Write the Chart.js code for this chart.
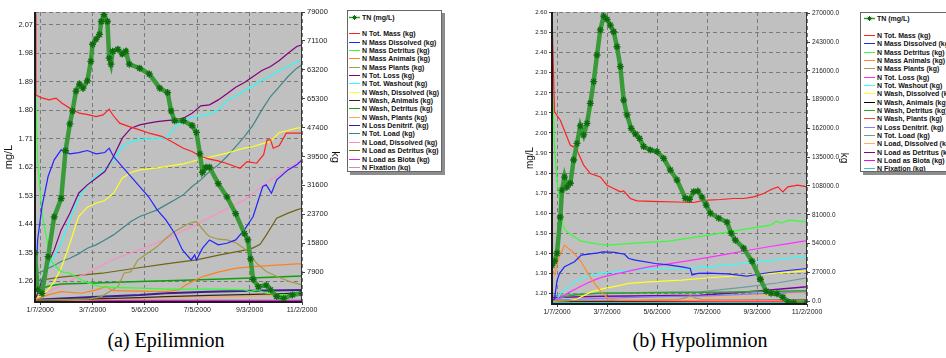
<!DOCTYPE html>
<html>
<head>
<meta charset="utf-8">
<script src="https://cdn.jsdelivr.net/npm/chart.js@4.4.1/dist/chart.umd.min.js"></script>
<style>
  body { margin: 0; width: 946px; height: 358px; overflow: hidden; background: #fff; position: relative; font-family: 'Liberation Sans', Arial, sans-serif; }
  .panel { position: absolute; top: 0; }
  .legend { position: absolute; background: #fff; border: 1px solid #666; box-shadow: 3px 3px 0 #8c8c8c; box-sizing: border-box; font-weight: bold; font-size: 7px; color: #111; white-space: nowrap; overflow: hidden; }
  .legend .row { height: 8.35px; display: flex; align-items: center; }
  .legend .sw { display: inline-block; width: 11px; height: 0; border-top: 1.5px solid; margin-right: 2px; flex: none; }
  .cap { position: absolute; top: 329px; width: 300px; text-align: center; font-family: 'Liberation Serif', 'Times New Roman', serif; font-size: 20px; line-height: 23px; color: #000; }
</style>
</head>
<body>
<canvas id="epi" class="panel" style="left:0" width="346" height="322"></canvas>
<canvas id="hypo" class="panel" style="left:516px" width="344" height="322"></canvas>
<div id="epiLegend" class="legend" style="left:347px;top:10px;width:95px;height:162px;padding:2px 0 0 1px"></div>
<div id="hypoLegend" class="legend" style="left:860px;top:12px;width:110px;height:160px;padding:1.5px 0 0 3px"></div>
<div class="cap" style="left:16px">(a) Epilimnion</div>
<div class="cap" style="left:550px">(b) Hypolimnion</div>
<script>
// x values are days since 1 Jan 2000
const dayTicks = [6, 66, 126, 186, 246, 306];
const dateLabels = ['1/7/2000', '3/7/2000', '5/6/2000', '7/5/2000', '9/3/2000', '11/2/2000'];

const seriesNames = [
  'N Tot. Mass (kg)', 'N Mass Dissolved (kg)', 'N Mass Detritus (kg)', 'N Mass Animals (kg)',
  'N Mass Plants (kg)', 'N Tot. Loss (kg)', 'N Tot. Washout (kg)', 'N Wash, Dissolved (kg)',
  'N Wash, Animals (kg)', 'N Wash, Detritus (kg)', 'N Wash, Plants (kg)', 'N Loss Denitrif. (kg)',
  'N Tot. Load (kg)', 'N Load, Dissolved (kg)', 'N Load as Detritus (kg)', 'N Load as Biota (kg)',
  'N Fixation (kg)'
];

const epiMgTicks = [1.26, 1.35, 1.44, 1.53, 1.62, 1.71, 1.80, 1.89, 1.98, 2.07];
const epiKgTicks = [7900, 15800, 23700, 31600, 39500, 47400, 55300, 63200, 71100, 79000];
const epiKgLabels = ['7900', '15800', '23700', '31600', '39500', '47400', '65300', '63200', '71100', '79000'];
const hypoMgTicks = [1.2, 1.3, 1.4, 1.5, 1.6, 1.7, 1.8, 1.9, 2.0, 2.1, 2.2, 2.3, 2.4, 2.5, 2.6];
const hypoKgTicks = [0, 27000, 54000, 81000, 108000, 135000, 162000, 189000, 216000, 243000, 270000];
const hypoKgLabels = ['0.0', '27000.0', '54000.0', '81000.0', '108000.0', '135000.0', '162000.0', '189000.0', '216000.0', '243000.0', '270000.0'];

// ---- Epilimnion: [day, value]
const epiTN = [[0,1.35],[3,1.232],[8,1.221],[15,1.337],[22,1.463],[30,1.521],[35,1.672],[40,1.757],[43,1.798],[47,1.861],[51,1.883],[55,1.87],[60,1.893],[64,1.955],[66,2.009],[70,2.025],[74,2.04],[76,2.081],[79,2.103],[83,2.081],[85,1.965],[87,1.946],[89,1.987],[95,1.993],[100,1.978],[104,1.987],[108,1.946],[120,1.933],[131,1.915],[143,1.87],[152,1.856],[156,1.798],[160,1.767],[170,1.767],[180,1.752],[185,1.73],[189,1.662],[192,1.604],[196,1.62],[200,1.62],[210,1.568],[220,1.526],[230,1.473],[240,1.41],[244,1.39],[247,1.33],[250,1.265],[256,1.242],[265,1.247],[270,1.232],[277,1.211],[285,1.205],[295,1.216],[306,1.221]];
const epiTotMass = [[0,78500],[1,56300],[8,55500],[16,55000],[24,55440],[31,54070],[43,52240],[51,51330],[62,50870],[70,50410],[78,50870],[85,52430],[89,50900],[97,48600],[108,47670],[120,46770],[131,45860],[146,44940],[160,43120],[170,41760],[180,40840],[190,39480],[200,38750],[210,38290],[219,37650],[235,36290],[243,38110],[254,37650],[262,40000],[266,44030],[270,44030],[273,41760],[280,42500],[288,45860],[306,45860]];
const epiDissolved = [[0,300],[3,16680],[8,25800],[15,34010],[22,38560],[30,41300],[40,40210],[50,40570],[60,41120],[70,40210],[80,40570],[85,41760],[90,39480],[100,36740],[110,34010],[120,31270],[130,28540],[140,24890],[150,22150],[160,18510],[169,13950],[179,11210],[183,12580],[185,11210],[192,14410],[200,16680],[210,15320],[220,15770],[230,16680],[240,19420],[250,23070],[261,31270],[265,31730],[271,29450],[277,33090],[290,35830],[300,37200],[306,38560]];
const epiDetritus = [[0,64000],[3,38560],[8,23980],[15,14860],[18,11200],[22,9850],[30,8020],[40,7570],[50,6200],[60,5000],[75,3920],[90,3700],[120,3470],[150,3200],[180,3200],[210,3200],[240,3000],[246,2550],[255,3000],[265,2100],[280,1800],[306,1500]];
const epiAnimals = [[0,300],[15,1640],[30,2550],[53,2100],[70,3000],[81,3920],[90,2800],[120,2700],[150,2550],[165,3000],[173,4380],[192,6650],[212,8020],[231,8940],[250,9390],[300,10120],[306,10120]];
const epiPlants = [[0,200],[60,500],[70,900],[76,1180],[85,2500],[95,3920],[102,7570],[110,8000],[118,11200],[129,13040],[140,14860],[150,17140],[160,18960],[170,20330],[177,21240],[185,21700],[196,18500],[200,17600],[210,16870],[220,16680],[230,15950],[242,13950],[254,10300],[265,8020],[280,6400],[292,5290],[306,4380]];
const epiTotLoss = [[0,300],[3,2100],[8,5740],[15,10300],[22,13950],[30,19420],[40,23980],[50,29450],[60,31730],[70,33550],[80,35370],[90,39480],[100,44490],[110,47230],[120,48140],[130,48600],[140,49000],[150,49300],[160,49500],[170,49960],[180,51330],[190,53330],[200,53610],[210,54970],[220,56620],[230,58440],[240,59720],[250,61360],[260,63000],[270,64090],[280,65730],[290,67740],[300,69560],[306,70020]];
const epiWashout = [[0,300],[3,2100],[8,6200],[15,9390],[22,12130],[30,15770],[40,22150],[50,28080],[60,31730],[70,34190],[80,35830],[90,38560],[100,42200],[110,43500],[120,44100],[130,44300],[140,44400],[150,44600],[160,47230],[170,49510],[180,50230],[190,50600],[200,51150],[210,52240],[220,54790],[230,55890],[240,57530],[250,58800],[260,60260],[270,61540],[280,63000],[290,64090],[300,65460],[306,65920]];
const epiWashDiss = [[0,270],[3,1000],[8,1640],[15,3010],[22,5290],[30,8930],[40,15770],[50,23070],[60,25620],[70,26710],[80,27440],[90,29450],[100,33550],[110,35100],[120,35830],[130,36100],[140,36380],[150,36740],[160,37110],[170,37470],[180,38110],[190,38750],[200,39290],[210,39840],[220,40390],[230,41120],[240,41760],[250,42210],[260,42940],[270,43580],[280,46040],[290,46590],[300,47230],[306,47410]];
const epiWashAnimals = [[0,100],[60,500],[120,900],[150,1180],[200,1500],[250,1800],[306,2100]];
const epiWashDetritus = [[0,300],[5,3000],[15,4000],[30,4650],[60,4840],[120,5290],[180,5740],[240,6200],[306,6840]];
const epiWashPlants = [[0,0],[60,300],[120,700],[180,1000],[240,1300],[306,1600]];
const epiDenitrif = [[0,300],[60,1000],[120,1600],[150,2100],[200,2500],[250,2800],[306,3000]];
const epiTotLoad = [[0,7110],[3,7570],[8,8020],[15,8930],[22,9660],[30,10760],[40,11670],[50,12860],[60,14400],[70,15320],[80,16680],[90,18050],[100,19880],[110,21700],[120,23070],[130,23980],[140,24890],[150,26260],[160,27620],[170,28990],[180,31270],[190,33090],[200,35370],[210,37200],[220,39480],[230,42210],[240,44950],[250,48140],[260,52240],[270,55890],[280,58620],[290,61360],[300,63640],[306,64550]];
const epiLoadDiss = [[0,910],[15,2550],[30,4100],[45,6200],[60,7570],[90,11400],[120,14000],[148,16700],[180,20330],[210,23980],[240,27620],[270,33090],[300,37650],[306,38750]];
const epiLoadDetritus = [[0,5500],[30,6480],[50,7000],[77,7570],[115,8930],[150,10120],[185,11210],[212,12580],[242,13950],[250,14500],[258,15500],[265,18000],[277,22600],[290,24000],[300,24890],[306,25350]];
const epiLoadBiota = [[0,0],[306,0]];
const epiFixation = [[0,0],[306,100]];

// ---- Hypolimnion: [day, value]
const hypoTN = [[0,1.34],[3,1.36],[6,1.40],[10,1.58],[12,1.715],[15,1.78],[18,1.73],[22,1.749],[26,1.865],[30,1.948],[34,2.035],[38,1.99],[42,2.048],[46,2.148],[50,2.256],[54,2.389],[58,2.514],[62,2.583],[66,2.567],[70,2.538],[74,2.505],[78,2.43],[82,2.331],[86,2.164],[90,2.09],[95,2.023],[100,1.995],[105,1.973],[110,1.932],[118,1.915],[126,1.907],[134,1.873],[142,1.815],[150,1.765],[160,1.674],[165,1.669],[170,1.707],[175,1.71],[180,1.68],[185,1.64],[190,1.60],[200,1.575],[210,1.555],[215,1.50],[220,1.465],[230,1.425],[240,1.36],[250,1.27],[257,1.21],[263,1.20],[270,1.198],[277,1.18],[283,1.158],[290,1.153],[306,1.153]];
const hypoTotMass = [[0,268000],[3,177500],[10,169700],[18,154000],[22,146250],[26,144700],[30,141600],[38,127500],[46,119700],[58,116500],[66,108750],[74,105600],[82,102500],[86,103400],[94,96250],[102,94000],[120,93500],[150,93000],[170,92500],[182,94500],[202,95300],[218,96250],[230,96250],[242,97800],[254,101000],[263,104700],[271,107200],[277,102500],[283,107200],[295,108750],[306,107200]];
const hypoDissolved = [[0,900],[3,2000],[6,19000],[9,26000],[15,32200],[27,36900],[35,43100],[55,45300],[61,46200],[75,45800],[87,44000],[92,40000],[100,38400],[124,35300],[140,34000],[156,32200],[166,30600],[168,24400],[175,26000],[188,26300],[210,25500],[234,23400],[259,26600],[280,28500],[306,30600]];
const hypoDetritus = [[0,219000],[3,144400],[6,113400],[10,88100],[13,71250],[16,66600],[22,62800],[35,56250],[55,53400],[67,52500],[100,54400],[140,56250],[188,61900],[210,64700],[240,68400],[262,71250],[270,75000],[275,73100],[285,75900],[306,74400]];
const hypoAnimals = [[0,30000],[3,25000],[8,40000],[15,52500],[22,48000],[27,44700],[35,36900],[43,26000],[51,16600],[59,8700],[65,4000],[70,1500],[80,800],[150,600],[306,400]];
const hypoPlants = [[0,500],[100,800],[150,1500],[160,3000],[166,5000],[172,3000],[180,1500],[240,1000],[306,800]];
const hypoTotLoss = [[0,0],[10,3000],[20,8000],[30,12000],[40,16000],[50,19500],[60,22500],[80,26000],[100,29500],[116,32200],[140,35000],[155,36900],[188,41000],[210,44000],[234,47500],[260,51000],[280,53500],[300,56000],[306,56600]];
const hypoWashout = [[0,0],[5,1000],[7,2800],[10,7000],[15,10300],[22,15000],[27,18100],[35,21250],[47,24400],[63,26500],[88,28400],[108,29700],[136,30600],[164,30800],[188,32200],[220,34500],[250,37000],[280,39800],[306,42200]];
const hypoWashDiss = [[0,0],[20,500],[30,2000],[35,4000],[47,8700],[63,11900],[83,15000],[92,16600],[116,18100],[156,19700],[188,21900],[250,25000],[306,28400]];
const hypoWashAnimals = [[0,0],[120,300],[200,600],[306,900]];
const hypoWashDetritus = [[0,900],[15,4000],[30,6000],[60,7500],[120,7800],[200,8300],[250,9000],[306,9700]];
const hypoWashPlants = [[0,0],[306,300]];
const hypoDenitrif = [[0,1000],[60,2500],[120,4000],[188,5000],[250,7000],[306,9000]];
const hypoTotLoad = [[0,5000],[30,6500],[60,7500],[120,8200],[178,8700],[234,13400],[270,17000],[306,21900]];
const hypoLoadDiss = [[0,0],[60,800],[120,1600],[178,2500],[240,5000],[306,7800]];
const hypoLoadDetritus = [[0,3500],[60,4500],[120,5000],[178,5600],[240,9000],[306,13400]];
const hypoLoadBiota = [[0,0],[306,0]];
const hypoFixation = [[0,-1200],[306,-1200]];

const epiColors = ['#ff2020', '#2323ff', '#33ff33', '#ff8020', '#a49a48', '#800080', '#22ffff', '#ffff22', '#2a2a2a', '#0fa00f', '#ffa64d', '#3c1e8c', '#3f8686', '#ff8cc6', '#6e6414', '#e21ee2', '#c38cc3'];
const hypoColors = ['#ff2020', '#2323ff', '#33ff33', '#ff8a30', '#a49a60', '#ff30ff', '#33ffff', '#ffff22', '#000000', '#2aa82a', '#ff4040', '#8080ff', '#6e9c9c', '#ffb060', '#8000a0', '#ff00ff', '#40c0c0'];
const epiWidths = [1.2, 1.2, 1.2, 1.2, 1.2, 1.2, 1.2, 1.2, 1.2, 1.5, 1.2, 2, 1.2, 1.2, 1.2, 2.5, 1.2];
const hypoWidths = [1.2, 1.2, 1.2, 1.2, 1.2, 1.2, 1.2, 1.2, 1.2, 1.5, 1.2, 1.2, 1.2, 1.2, 1.5, 2, 2];

const ff = "'Liberation Sans', Arial, sans-serif";
const gridGray = '#7a7a7a';

const plotFrame = {
  id: 'plotFrame',
  beforeDraw(chart) {
    const {ctx, chartArea: a} = chart;
    ctx.save();
    ctx.fillStyle = '#c0c0c0';
    ctx.fillRect(a.left, a.top, a.right - a.left, a.bottom - a.top);
    ctx.restore();
  },
  afterDraw(chart) {
    const {ctx, chartArea: a} = chart;
    ctx.save();
    ctx.lineWidth = 1;
    ctx.strokeStyle = gridGray;
    ctx.setLineDash([4, 3]);
    ctx.beginPath(); ctx.moveTo(a.left, a.top + 0.5); ctx.lineTo(a.right, a.top + 0.5); ctx.stroke();
    ctx.setLineDash([]);
    ctx.strokeStyle = '#333';
    ctx.beginPath(); ctx.moveTo(a.right - 0.5, a.top); ctx.lineTo(a.right - 0.5, a.bottom); ctx.stroke();
    ctx.lineWidth = 2;
    ctx.strokeStyle = '#1c1c1c';
    ctx.beginPath(); ctx.moveTo(a.left, a.top); ctx.lineTo(a.left, a.bottom); ctx.lineTo(a.right, a.bottom); ctx.stroke();
    ctx.restore();
  }
};

function drawPanel(id, tn, series, colors, widths, look) {
  const datasets = [{
    label: 'TN (mg/L)', data: tn, yAxisID: 'mg',
    borderColor: '#3a9a3a', borderWidth: 4.5,
    pointStyle: 'star', pointRadius: 3.5, pointBorderWidth: 1.3,
    pointBorderColor: '#0d6b0d', pointBackgroundColor: '#0d6b0d'
  }];
  series.forEach((s, i) => datasets.push({
    label: seriesNames[i], data: s, yAxisID: 'kg',
    borderColor: colors[i], borderWidth: widths[i], pointRadius: 0
  }));

  return new Chart(document.getElementById(id), {
    type: 'line',
    data: { datasets },
    options: {
      responsive: false, animation: false, devicePixelRatio: 1,
      layout: { padding: { top: look.top, left: 0, right: 0, bottom: 0 } },
      plugins: { legend: { display: false }, tooltip: { enabled: false } },
      elements: { line: { tension: 0 } },
      scales: {
        x: {
          type: 'linear', min: 0, max: 306,
          afterBuildTicks: s => { s.ticks = dayTicks.map(v => ({ value: v })); },
          afterFit: s => { s.height = look.xHeight; },
          ticks: { autoSkip: false, maxRotation: 0, padding: 1, color: '#222', font: { size: 7, family: ff }, callback: (v, i) => dateLabels[i] },
          grid: { color: gridGray, tickLength: 3, tickColor: '#444' },
          border: { display: false, dash: [4, 3] }
        },
        mg: {
          position: 'left', min: look.mgMin, max: look.mgMax,
          afterBuildTicks: s => { s.ticks = look.mgTicks.map(v => ({ value: v })); },
          afterFit: s => { s.width = look.leftW; },
          ticks: { padding: 2, color: '#222', font: { size: look.mgFont, family: ff }, callback: v => v.toFixed(2) },
          grid: { color: gridGray, drawTicks: look.leftTicks, tickLength: 3, tickColor: '#444' },
          border: { display: false, dash: [4, 3] },
          title: { display: true, text: 'mg/L', color: '#111', font: { size: look.titleSize, family: ff }, padding: { top: look.mgTitlePad, bottom: 0 } }
        },
        kg: {
          position: 'right', min: look.kgMin, max: look.kgMax,
          afterBuildTicks: s => { s.ticks = look.kgTicks.map(v => ({ value: v })); },
          afterFit: s => { s.width = look.rightW; },
          ticks: { padding: 2, color: '#222', font: { size: look.kgFont, family: ff }, callback: (v, i) => look.kgLabels[i] },
          grid: { drawOnChartArea: false, tickLength: 3, tickColor: '#444' },
          border: { display: false },
          title: { display: true, text: 'kg', color: '#111', font: { size: look.titleSize, family: ff }, padding: { top: look.kgTitlePad, bottom: 0 } }
        }
      }
    },
    plugins: [plotFrame]
  });
}

function buildLegend(boxId, colors) {
  const box = document.getElementById(boxId);
  let html = '<div class="row"><svg width="11" height="7" style="margin-right:2px;flex:none">' +
    '<line x1="0" y1="3.5" x2="11" y2="3.5" stroke="#3a9a3a" stroke-width="1.5"/>' +
    '<path d="M5.5 1v5M3 3.5h5M3.8 1.8l3.4 3.4M7.2 1.8l-3.4 3.4" stroke="#0d6b0d" stroke-width="1"/></svg>TN (mg/L)</div>';
  html += '<div class="row"></div>';
  seriesNames.forEach((n, i) => {
    html += '<div class="row"><span class="sw" style="border-top-color:' + colors[i] + '"></span>' + n + '</div>';
  });
  box.innerHTML = html;
}

drawPanel('epi', epiTN,
  [epiTotMass, epiDissolved, epiDetritus, epiAnimals, epiPlants, epiTotLoss, epiWashout, epiWashDiss, epiWashAnimals,
   epiWashDetritus, epiWashPlants, epiDenitrif, epiTotLoad, epiLoadDiss, epiLoadDetritus, epiLoadBiota, epiFixation],
  epiColors, epiWidths,
  { top: 12, xHeight: 20, leftW: 35, rightW: 44, mgMin: 1.1936, mgMax: 2.111, kgMin: -300, kgMax: 79000,
    mgTicks: epiMgTicks, kgTicks: epiKgTicks, kgLabels: epiKgLabels, mgFont: 7.5, kgFont: 7.5, titleSize: 11,
    leftTicks: false, mgTitlePad: 2, kgTitlePad: 4 });

drawPanel('hypo', hypoTN,
  [hypoTotMass, hypoDissolved, hypoDetritus, hypoAnimals, hypoPlants, hypoTotLoss, hypoWashout, hypoWashDiss, hypoWashAnimals,
   hypoWashDetritus, hypoWashPlants, hypoDenitrif, hypoTotLoad, hypoLoadDiss, hypoLoadDetritus, hypoLoadBiota, hypoFixation],
  hypoColors, hypoWidths,
  { top: 12, xHeight: 18, leftW: 36, rightW: 53, mgMin: 1.1466, mgMax: 2.6035, kgMin: -2700, kgMax: 271200,
    mgTicks: hypoMgTicks, kgTicks: hypoKgTicks, kgLabels: hypoKgLabels, mgFont: 6, kgFont: 6.5, titleSize: 10,
    leftTicks: true, mgTitlePad: 8, kgTitlePad: 10 });

buildLegend('epiLegend', epiColors);
buildLegend('hypoLegend', hypoColors);
</script>
</body>
</html>
